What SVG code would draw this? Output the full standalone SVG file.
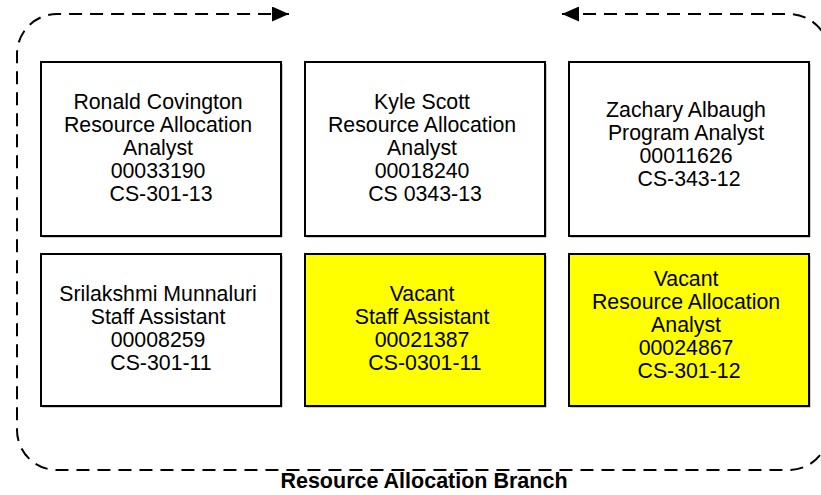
<svg xmlns="http://www.w3.org/2000/svg" width="821" height="495" viewBox="0 0 821 495">
  <style>
    .box { stroke: #000; stroke-width: 2; }
    .white { fill: #ffffff; }
    .yellow { fill: #ffff00; }
    .shadow { fill: #9a9a9a; }
    .lbl { font-family: "Liberation Sans", Arial, sans-serif; font-size: 21.3px; fill: #000; text-anchor: middle; }
    .title { font-family: "Liberation Sans", Arial, sans-serif; font-size: 21.5px; font-weight: bold; fill: #000; text-anchor: middle; }
    .dash { fill: none; stroke: #000; stroke-width: 2; stroke-dasharray: 13 8; }
  </style>
  <defs>
    <marker id="arrow" markerUnits="userSpaceOnUse" viewBox="0 0 17 15" markerWidth="17" markerHeight="15" refX="17" refY="7.5" orient="auto-start-reverse">
      <path d="M0,0 L17,7.5 L0,15 Z" fill="#000"/>
    </marker>
  </defs>
  <rect width="821" height="495" fill="#ffffff"/>

  <g id="connectors">
    <path class="dash" d="M562,14 H789 A40,40 0 0 1 829,54 V430 A40,40 0 0 1 789,470 H57 A40,40 0 0 1 17,430 V54 A40,40 0 0 1 57,14 H289" marker-start="url(#arrow)" marker-end="url(#arrow)"/>
  </g>

  <g id="node-ronald-covington">
    <rect class="shadow" x="42.5" y="63.5" width="240" height="174"/>
    <rect class="box white" x="41" y="62" width="240" height="174"/>
    <text class="lbl">
      <tspan x="161" y="108.5">Ronald Covington</tspan>
      <tspan x="161" y="131.5">Resource Allocation</tspan>
      <tspan x="161" y="154.5">Analyst</tspan>
      <tspan x="161" y="177.5">00033190</tspan>
      <tspan x="161" y="200.5">CS-301-13</tspan>
    </text>
  </g>

  <g id="node-kyle-scott">
    <rect class="shadow" x="306.5" y="63.5" width="240" height="174"/>
    <rect class="box white" x="305" y="62" width="240" height="174"/>
    <text class="lbl">
      <tspan x="425" y="108.5">Kyle Scott</tspan>
      <tspan x="425" y="131.5">Resource Allocation</tspan>
      <tspan x="425" y="154.5">Analyst</tspan>
      <tspan x="425" y="177.5">00018240</tspan>
      <tspan x="425" y="200.5">CS 0343-13</tspan>
    </text>
  </g>

  <g id="node-zachary-albaugh">
    <rect class="shadow" x="570.5" y="63.5" width="240" height="174"/>
    <rect class="box white" x="569" y="62" width="240" height="174"/>
    <text class="lbl">
      <tspan x="689" y="116.5">Zachary Albaugh</tspan>
      <tspan x="689" y="139.5">Program Analyst</tspan>
      <tspan x="689" y="162.5">00011626</tspan>
      <tspan x="689" y="185.5">CS-343-12</tspan>
    </text>
  </g>

  <g id="node-srilakshmi-munnaluri">
    <rect class="shadow" x="42.5" y="255.5" width="240" height="152"/>
    <rect class="box white" x="41" y="254" width="240" height="152"/>
    <text class="lbl">
      <tspan x="161" y="300.5">Srilakshmi Munnaluri</tspan>
      <tspan x="161" y="323.5">Staff Assistant</tspan>
      <tspan x="161" y="346.5">00008259</tspan>
      <tspan x="161" y="369.5">CS-301-11</tspan>
    </text>
  </g>

  <g id="node-vacant-staff-assistant">
    <rect class="shadow" x="306.5" y="255.5" width="240" height="152"/>
    <rect class="box yellow" x="305" y="254" width="240" height="152"/>
    <text class="lbl">
      <tspan x="425" y="300.5">Vacant</tspan>
      <tspan x="425" y="323.5">Staff Assistant</tspan>
      <tspan x="425" y="346.5">00021387</tspan>
      <tspan x="425" y="369.5">CS-0301-11</tspan>
    </text>
  </g>

  <g id="node-vacant-resource-allocation-analyst">
    <rect class="shadow" x="570.5" y="255.5" width="240" height="152"/>
    <rect class="box yellow" x="569" y="254" width="240" height="152"/>
    <text class="lbl">
      <tspan x="689" y="285.5">Vacant</tspan>
      <tspan x="689" y="308.5">Resource Allocation</tspan>
      <tspan x="689" y="331.5">Analyst</tspan>
      <tspan x="689" y="354.5">00024867</tspan>
      <tspan x="689" y="377.5">CS-301-12</tspan>
    </text>
  </g>

  <g id="label-branch">
    <text class="title" x="424" y="488">Resource Allocation Branch</text>
  </g>
</svg>
